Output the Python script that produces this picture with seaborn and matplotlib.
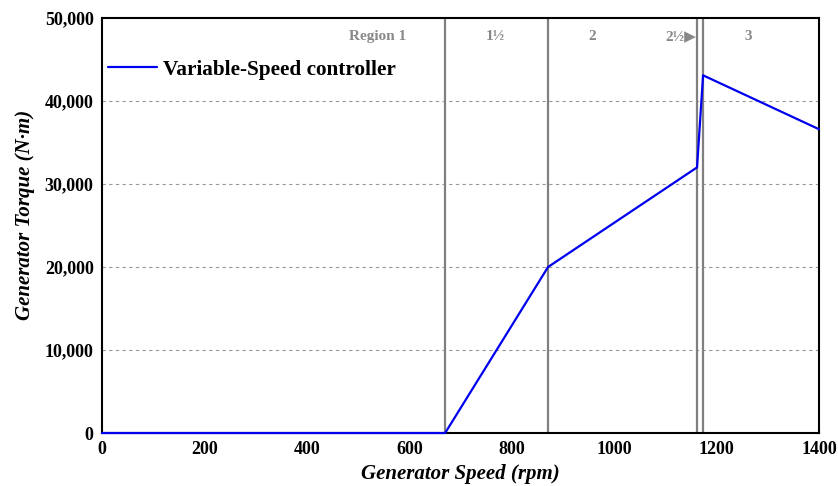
import matplotlib
matplotlib.use("Agg")
import matplotlib.pyplot as plt
import seaborn as sns
import pandas as pd
from matplotlib.ticker import FuncFormatter

sns.set_theme(style="white")
plt.rcParams["font.family"] = ["Liberation Serif", "DejaVu Sans"]
plt.rcParams["text.color"] = "black"
plt.rcParams["axes.labelcolor"] = "black"
plt.rcParams["xtick.color"] = "black"
plt.rcParams["ytick.color"] = "black"

# Torque-speed schedule of the variable-speed controller
speed_rpm = [0, 670, 871, 1161.9, 1173.7, 1400]
torque_nm = [0, 0, 20000, 32000, 43093, 36600]

# Region boundaries and labels
region_bounds = [670, 871, 1161.9, 1173.7]
region_names = ["Region 1", "1½", "2", "2½▶", "3"]
region_label_x = [539, 768, 957, 1161.0, 1262]

df = pd.DataFrame({"speed": speed_rpm, "torque": torque_nm})

fig = plt.figure(figsize=(8.38, 4.86), dpi=100)
ax = fig.add_axes([0.1217, 0.109, 0.8556, 0.854])

for b in region_bounds:
    ax.axvline(b, color="#808080", lw=1.6, zorder=1)

for yv in [10000, 20000, 30000, 40000]:
    ax.axhline(yv, color="#999999", lw=0.8, ls=(0, (3, 3)), zorder=0)

sns.lineplot(data=df, x="speed", y="torque", ax=ax, color="#0000ee", lw=1.6,
             label="Variable-Speed controller", clip_on=False, zorder=3)

for name, xv in zip(region_names, region_label_x):
    ha = "right" if name.startswith("2½") else "center"
    ax.text(xv, 47800, name, ha=ha, va="center",
            fontsize=11, fontweight="bold", color="#888888",
            family=["Liberation Serif", "DejaVu Sans"])

ax.set_xlim(0, 1400)
ax.set_ylim(0, 50000)
ax.set_xticks([0, 200, 400, 600, 800, 1000, 1200, 1400])
ax.set_yticks([0, 10000, 20000, 30000, 40000, 50000])
ax.yaxis.set_major_formatter(FuncFormatter(lambda v, p: f"{int(v):,}"))
ax.tick_params(axis="both", labelsize=13, length=0, pad=6, colors="black")
for lab in ax.get_xticklabels() + ax.get_yticklabels():
    lab.set_fontweight("bold")

ax.set_xlabel("Generator Speed (rpm)", fontsize=15, fontweight="bold",
              fontstyle="italic", labelpad=4)
ax.set_ylabel("Generator Torque (N·m)", fontsize=15, fontweight="bold",
              fontstyle="italic", labelpad=6)
ax.yaxis.set_label_coords(-0.094, 0.525)

for s in ax.spines.values():
    s.set_color("black")
    s.set_linewidth(1.5)

leg = ax.legend(loc="center left", frameon=False,
                prop={"weight": "bold", "size": 15.3}, handlelength=2.3,
                handletextpad=0.3, borderpad=0, borderaxespad=0,
                bbox_to_anchor=(0.0084, 0.875))
for t in leg.get_texts():
    t.set_color("black")

fig.savefig("out.png", dpi=100)
